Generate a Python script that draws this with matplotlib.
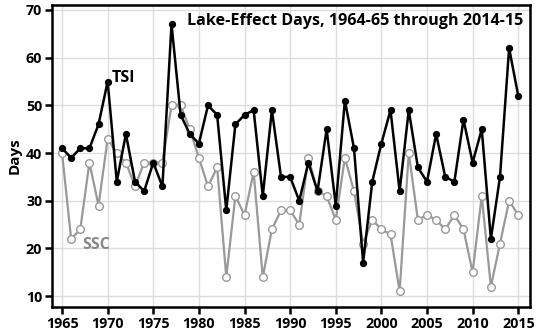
import matplotlib.pyplot as plt

plt.rcParams['font.family'] = ['Open Sans', 'DejaVu Sans']
plt.rcParams['font.weight'] = 'bold'

# Lake-effect days per season (season labelled by its ending year)
years = list(range(1965, 2016))
tsi = [41, 39, 41, 41, 46, 55, 34, 44, 34, 32,
       38, 33, 67, 48, 44, 42, 50, 48, 28, 46,
       48, 49, 31, 49, 35, 35, 30, 38, 32, 45,
       29, 51, 41, 17, 34, 42, 49, 32, 49, 37,
       34, 44, 35, 34, 47, 38, 45, 22, 35, 62,
       52]
ssc = [40, 22, 24, 38, 29, 43, 40, 38, 33, 38,
       38, 38, 50, 50, 45, 39, 33, 37, 14, 31,
       27, 36, 14, 24, 28, 28, 25, 39, 32, 31,
       26, 39, 32, 21, 26, 24, 23, 11, 40, 26,
       27, 26, 24, 27, 24, 15, 31, 12, 21, 30,
       27]
x_ticks = list(range(1965, 2016, 5))
y_ticks = list(range(10, 71, 10))

fig = plt.figure(figsize=(5.36, 3.32), dpi=100)
ax = fig.add_axes([0.097, 0.075, 0.892, 0.910])

ax.plot(years, ssc, '-o', color='#999999', lw=1.6, ms=5.5,
        markerfacecolor='white', markeredgecolor='#999999', mew=1.0, zorder=3)
ax.plot(years, tsi, '-o', color='black', lw=1.8, ms=4.2, zorder=4)

ax.set_xlim(1963.9, 2016.3)
ax.set_ylim(7.7, 71.05)
ax.set_xticks(x_ticks)
ax.set_yticks(y_ticks)
ax.grid(True, color='#dddddd', linewidth=1.0)
ax.set_axisbelow(True)

for s in ax.spines.values():
    s.set_linewidth(1.8)
ax.tick_params(direction='out', length=5, width=1.8, labelsize=10.3, pad=2)
ax.set_ylabel('Days', fontsize=11, fontweight='bold', labelpad=3)

ax.text(0.985, 0.975, 'Lake-Effect Days, 1964-65 through 2014-15',
        transform=ax.transAxes, ha='right', va='top', fontsize=11.6, fontweight='bold')
ax.text(1970.4, 55.7, 'TSI', fontsize=11.5, fontweight='bold', color='black', va='center')
ax.text(1967.2, 20.8, 'SSC', fontsize=11.5, fontweight='bold', color='#888888', va='center')

plt.savefig('out.png', dpi=100)
